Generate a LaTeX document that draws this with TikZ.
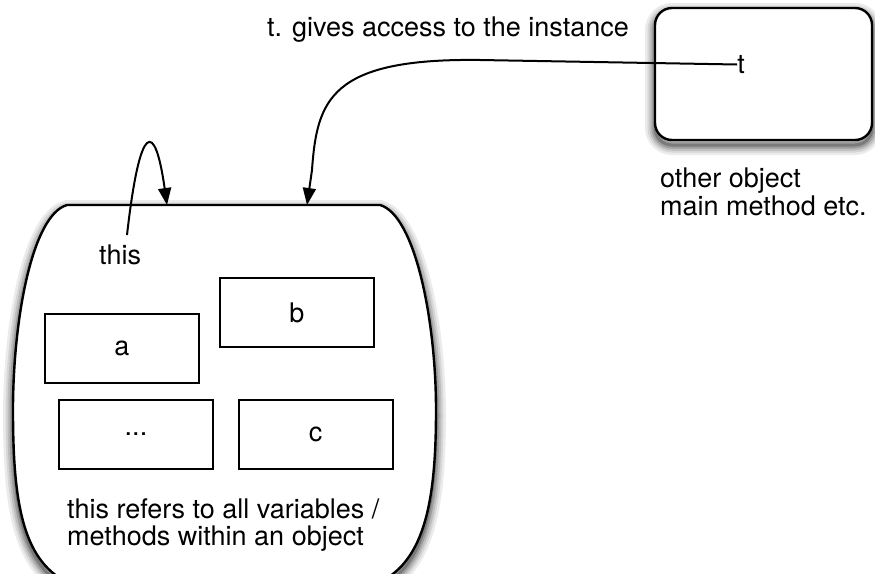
\documentclass[tikz,border=0pt]{standalone}
\usepackage{fontspec}
\setmainfont{TeX Gyre Heros}
\usetikzlibrary{arrows.meta}

% outline of the barrel-shaped object
\def\barreloutline{(67,205) -- (380,205)
    .. controls (415,215) and (436,320) .. (436,410)
    .. controls (436,500) and (425,560) .. (380,582)
    -- (67,582)
    .. controls (22,560) and (13,500) .. (13,410)
    .. controls (13,320) and (32,215) .. (67,205) -- cycle}

\begin{document}
\begin{tikzpicture}[x=1pt,y=-1pt,
  every node/.style={font=\fontsize{27}{27.5}\selectfont, inner sep=0pt},
  outline/.style={draw=black, line width=2.4pt, fill=white},
  slot/.style={draw=black, line width=2pt, fill=white,
    minimum width=154pt, minimum height=69pt},
  link/.style={line width=2pt, -{Triangle[length=17pt,width=13pt]}},
  caption/.style={align=left, anchor=north west}]

\useasboundingbox (0,0) rectangle (875,573);

% soft drop shadows: widening strokes, lightest first
\begin{scope}
  \clip (0,0) rectangle (875,573);
  \foreach \w/\g in {20/8,15/16,11/26,7/38,3/52} {
    \draw[draw=black!\g, line width=\w pt, shift={(0,5)}] \barreloutline;
    \draw[draw=black!\g, line width=\w pt, shift={(0,5)},
          rounded corners=17pt] (655,8) rectangle (872,140);
  }
\end{scope}

% the object, cut off at the bottom edge
\begin{scope}
  \clip (0,0) rectangle (875,573);
  \path[outline] \barreloutline;
\end{scope}

% the variables / methods inside the object
\node[slot] (a)    at (122,348)   {a};
\node[slot] (b)    at (297,312.5) {b};
\node[slot] (dots) at (136,434.5) {...};
\node[slot] (c)    at (315.5,434.5) {c};

\node[anchor=base west] (thislbl) at (99,264) {this};
\node[caption] (scope) at (67,498.5)
  {this refers to all variables /\\methods within an object};

% the other object holding the reference t
\node[outline, rounded corners=17pt, minimum width=217pt,
      minimum height=132pt] (other) at (763.5,74) {};
\node (t) at (741,64.5) {t};
\node[caption] (otherlbl) at (660,168) {other object\\main method etc.};

\node[anchor=base west] (access) at (267,36.7) {t. gives access to the instance};

% connectors
\coordinate (selfout) at (127,235);
\coordinate (selfin)  at (167,205);
\coordinate (tin)     at (307,205);

\draw[link] (selfout) .. controls (140,120) and (155,120) .. (selfin);
\draw[link] (t.west) -- (480,60)
  .. controls (330,58) and (317,100) .. (312,170) -- (tin);

\end{tikzpicture}
\end{document}
